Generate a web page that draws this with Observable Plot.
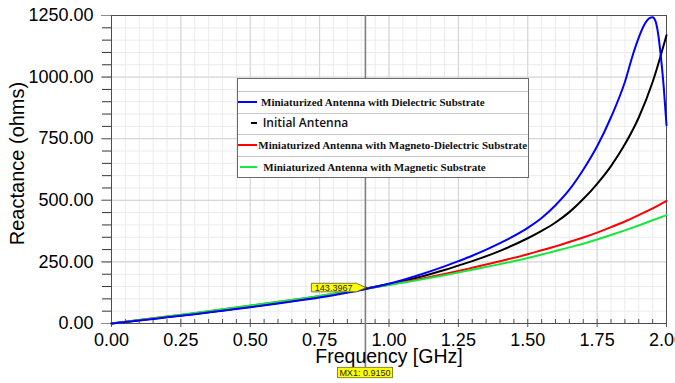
<!DOCTYPE html>
<html>
<head>
<meta charset="utf-8">
<script src="https://cdn.jsdelivr.net/npm/d3@7"></script>
<script src="https://cdn.jsdelivr.net/npm/@observablehq/plot@0.6"></script>
<style>
  html, body { margin: 0; padding: 0; background: #fff; }
  #wrap { position: relative; width: 675px; height: 383px; overflow: hidden; background: #fff; }
  #legend { position: absolute; left: 237px; top: 78px; width: 290px; height: 98px;
            border: 1px solid #6a6a6a; background: #fff; }
  #legend .sep { position: absolute; left: 0; width: 290px; height: 1px; background: #c6c6c6; }
  #legend .sw { position: absolute; height: 2px; }
  #legend .lb { position: absolute; white-space: nowrap; line-height: 14px; height: 14px; color: #111; }
  #legend .serif { font-family: "Liberation Serif", "Times New Roman", serif; font-weight: bold; font-size: 11px; }
  #legend .sans { font-family: "Open Sans", sans-serif; font-weight: 600; font-size: 12px; }
</style>
</head>
<body>
<div id="wrap"></div>
<script>
// ---------------- data ----------------
const freqCommon = [0, 0.1, 0.2, 0.3, 0.4, 0.5, 0.6, 0.7, 0.8, 0.9, 1.0, 1.1, 1.2, 1.25, 1.3, 1.4, 1.5,
                    1.55, 1.6, 1.65, 1.7, 1.75, 1.8, 1.85, 1.9, 1.95, 2.0];
const initialAntenna = [0, 13, 26, 39, 53, 68, 83, 100, 118, 138, 160, 186, 217, 235, 253, 295, 346,
                        376, 410, 452, 505, 567, 639, 727, 836, 980, 1170];
const magnetoDielectric = [0, 14, 28, 42, 57, 72, 87, 103, 120, 138, 157, 178, 201, 213, 226, 253, 281,
                           297, 313, 331, 349, 369, 391, 414, 440, 467, 498];
const magnetic = [0, 14, 28, 43, 58, 73, 88, 104, 121, 139, 156, 175, 196, 207, 218, 241, 266,
                  280, 294, 309, 324, 341, 359, 378, 398, 419, 440];
const freqDielectric = [0, 0.1, 0.2, 0.3, 0.4, 0.5, 0.6, 0.7, 0.8, 0.9, 1.0, 1.1, 1.2, 1.25, 1.3, 1.4, 1.5,
                        1.55, 1.6, 1.65, 1.7, 1.75, 1.8, 1.85, 1.88, 1.9, 1.92, 1.94, 1.95, 1.96, 1.97, 1.98, 1.99, 2.0];
const dielectric = [0, 12, 25, 38, 52, 66, 81, 97, 115, 136, 161, 194, 232, 253, 275, 326, 388,
                    428, 480, 543, 624, 719, 837, 980, 1095, 1160, 1212, 1240, 1243, 1228, 1175, 1080, 960, 805];

const seriesNames = [
  "Miniaturized Antenna with Dielectric Substrate",
  "Initial Antenna",
  "Miniaturized Antenna with Magneto-Dielectric Substrate",
  "Miniaturized Antenna with Magnetic Substrate"
];
const seriesColors = ["#0000ff", "#000000", "#ff0000", "#14e83c"];

const xTicks = [0, 0.25, 0.5, 0.75, 1.0, 1.25, 1.5, 1.75, 2.0];
const xMinorTicks = d3.range(0, 41).map(i => i * 0.05);
const yTicks = [0, 250, 500, 750, 1000, 1250];
const yMinorTicks = d3.range(0, 26).map(i => i * 50);
const xTitle = "Frequency [GHz]";
const yTitle = "Reactance (ohms)";

const markerFreq = [0.915];
const markerValue = [143.3967];
const markerName = "MX1";

// ---------------- build rows ----------------
const seriesData = [
  {name: seriesNames[1], f: freqCommon, v: initialAntenna},
  {name: seriesNames[2], f: freqCommon, v: magnetoDielectric},
  {name: seriesNames[3], f: freqCommon, v: magnetic},
  {name: seriesNames[0], f: freqDielectric, v: dielectric}
];
const rows = seriesData.flatMap(s => s.f.map((f, i) => ({series: s.name, f, v: s.v[i]})));
const colorOf = Object.fromEntries(seriesNames.map((n, i) => [n, seriesColors[i]]));

const chart = Plot.plot({
  width: 675,
  height: 383,
  marginLeft: 111,
  marginRight: 9,
  marginTop: 15,
  marginBottom: 60,
  style: {fontFamily: "'Liberation Sans', Arial, sans-serif", fontSize: "18px", color: "black", background: "white", overflow: "visible"},
  x: {domain: [0, 2], label: null},
  y: {domain: [0, 1250], label: null},
  marks: [
    Plot.gridX(xMinorTicks, {stroke: "#ececec", strokeOpacity: 1}),
    Plot.gridY(yMinorTicks, {stroke: "#ececec", strokeOpacity: 1}),
    Plot.gridX(xTicks, {stroke: "#d2d2d2", strokeOpacity: 1}),
    Plot.gridY(yTicks, {stroke: "#d2d2d2", strokeOpacity: 1}),
    Plot.tickX(xMinorTicks, {stroke: "#555", insetTop: 304}),
    Plot.axisX(xTicks, {tickSize: 4, tickPadding: 6, stroke: "#555", fill: "black",
                        tickFormat: d => d.toFixed(2), label: null, fontSize: 18}),
    Plot.axisY(yMinorTicks, {tickSize: 9, stroke: "#333", tickFormat: () => "", label: null}),
    Plot.axisY(yTicks, {tickSize: 10, tickPadding: 8, stroke: "#8c8c8c", fill: "black",
                        tickFormat: d => d.toFixed(2), label: null, fontSize: 18}),
    Plot.frame({stroke: "#4d4d4d"}),
    Plot.ruleX(markerFreq, {stroke: "#7f7f7f", strokeWidth: 1.6, insetBottom: -44}),
    Plot.line(rows, {x: "f", y: "v", z: "series", stroke: d => colorOf[d.series], strokeWidth: 2, curve: "monotone-x"}),
    Plot.dot(markerFreq.map((f, i) => ({f, v: markerValue[i]})), {x: "f", y: "v", r: 1.6, fill: "#222", stroke: "none"}),
    Plot.text([xTitle], {frameAnchor: "bottom", textAnchor: "middle", lineAnchor: "bottom", dy: 39, fontSize: 19.5, fill: "black"}),
    Plot.text([yTitle], {frameAnchor: "left", textAnchor: "middle", lineAnchor: "middle", rotate: -90, dx: -94, dy: -6, fontSize: 20, fill: "black"})
  ]
});

const wrap = document.getElementById("wrap");
wrap.appendChild(chart);

// ---------------- marker annotations (positioned via Plot scales) ----------------
const sx = chart.scale("x"), sy = chart.scale("y");
const svg = d3.select(chart);
const g = svg.append("g").attr("font-family", "'Liberation Sans', Arial, sans-serif");
markerFreq.forEach((f, i) => {
  const px = sx.apply(f), py = sy.apply(markerValue[i]);
  // value tag
  const tg = g.append("g");
  const poly = tg.append("polygon");
  const t = tg.append("text").attr("font-size", 9).attr("text-anchor", "end")
    .attr("x", px - 12.5).attr("y", py + 3.3).attr("fill", "#222").text(markerValue[i].toFixed(4));
  const b = t.node().getBBox();
  const left = b.x - 3.5, right = px - 8.5, top = py - 4.4, bottom = py + 4.2;
  poly.attr("points", [[left, top], [right, top], [px + 1, py], [right, bottom], [left, bottom]].map(p => p.join(",")).join(" "))
    .attr("fill", "#ffff00").attr("stroke", "#5a5a2a").attr("stroke-width", 0.8);
  // frequency tag
  const fg = g.append("g");
  const rect = fg.append("rect");
  const ft = fg.append("text").attr("font-size", 9).attr("text-anchor", "middle")
    .attr("x", px).attr("y", sy.apply(0) + 52.5).attr("fill", "#222").text(`${markerName}: ${f.toFixed(4)}`);
  const fb = ft.node().getBBox();
  rect.attr("x", fb.x - 2).attr("y", sy.apply(0) + 44.3).attr("width", fb.width + 4).attr("height", 10.4)
    .attr("fill", "#ffff00").attr("stroke", "#6a6a20").attr("stroke-width", 0.8);
});

// ---------------- legend ----------------
const legend = document.createElement("div");
legend.id = "legend";
[12, 33.7, 55.3, 77].forEach(y => {
  const s = document.createElement("div"); s.className = "sep"; s.style.top = y + "px"; legend.appendChild(s);
});
const rowCenters = [22.8, 44.4, 66, 87.5];
const swatchSpan = [[0.3, 18.7], [12.5, 18.7], [0, 19], [2, 19]];
const textLeft = [23, 24.7, 20.3, 25.3];
seriesNames.forEach((name, i) => {
  const sw = document.createElement("div");
  sw.className = "sw";
  sw.style.left = swatchSpan[i][0] + "px";
  sw.style.width = (swatchSpan[i][1] - swatchSpan[i][0]) + "px";
  sw.style.top = (rowCenters[i] - 1) + "px";
  sw.style.background = seriesColors[i];
  legend.appendChild(sw);
  const lb = document.createElement("div");
  lb.className = "lb " + (i === 1 ? "sans" : "serif");
  lb.style.left = textLeft[i] + "px";
  lb.style.top = (rowCenters[i] - 7) + "px";
  lb.textContent = name;
  legend.appendChild(lb);
});
wrap.appendChild(legend);
</script>
</body>
</html>
